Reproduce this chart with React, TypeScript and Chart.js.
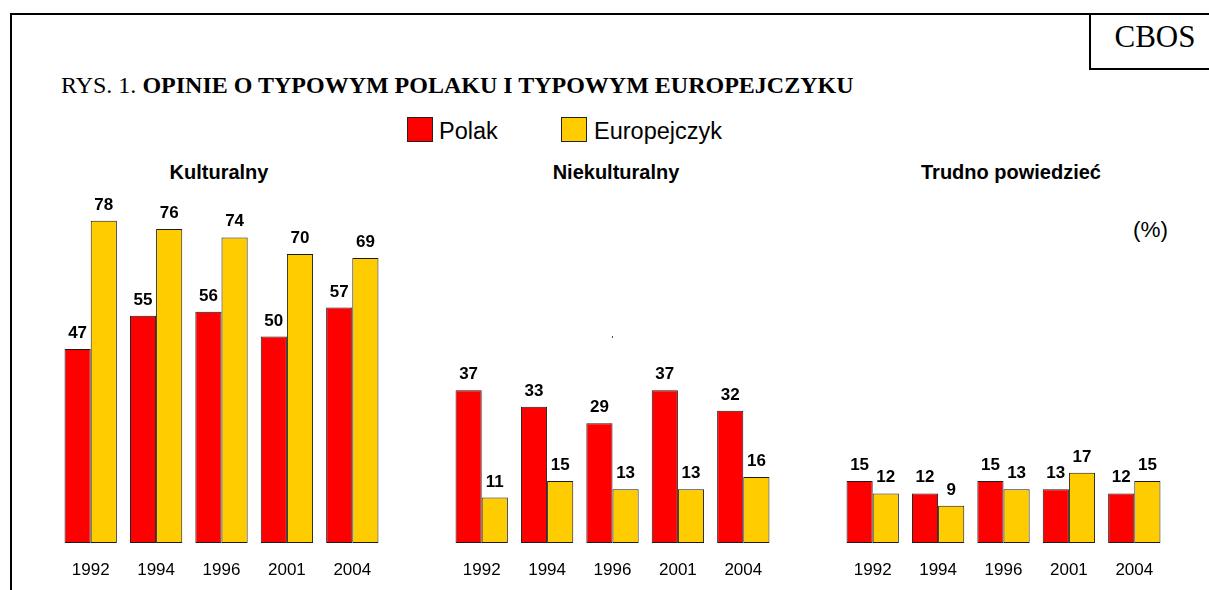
import React, { useEffect, useRef } from "react";
import { Chart, registerables } from "chart.js";

Chart.register(...registerables);

// ---- data ----
const years = ["1992", "1994", "1996", "2001", "2004"];
const seriesNames = ["Polak", "Europejczyk"];
const panelTitles = ["Kulturalny", "Niekulturalny", "Trudno powiedzieć"];
const kulturalnyPolak = [47, 55, 56, 50, 57];
const kulturalnyEuropejczyk = [78, 76, 74, 70, 69];
const niekulturalnyPolak = [37, 33, 29, 37, 32];
const niekulturalnyEuropejczyk = [11, 15, 13, 13, 16];
const trudnoPolak = [15, 12, 15, 13, 12];
const trudnoEuropejczyk = [12, 9, 13, 17, 15];

const SANS = "'Liberation Sans', Arial, sans-serif";
const SERIF = "'Liberation Serif', 'Times New Roman', serif";
const RED = "#FF0000";
const YELLOW = "#FFCC00";

const valueLabels = {
  id: "valueLabels",
  afterDatasetsDraw(chart: any) {
    const ctx = chart.ctx;
    ctx.save();
    ctx.font = `bold 17px ${SANS}`;
    ctx.fillStyle = "#000";
    ctx.textAlign = "center";
    ctx.textBaseline = "alphabetic";
    chart.data.datasets.forEach((ds: any, i: number) => {
      const meta = chart.getDatasetMeta(i);
      meta.data.forEach((bar: any, j: number) => {
        ctx.fillText(String(ds.data[j]), bar.x, bar.y - 11);
      });
    });
    ctx.restore();
  },
};

const CW = 327;
const CH = 447;
const CTOP = 150;

function Panel({ left, polak, europ }: { left: number; polak: number[]; europ: number[] }) {
  const ref = useRef<HTMLCanvasElement | null>(null);
  useEffect(() => {
    if (!ref.current) return;
    const common = {
      borderColor: "#1a1a1a",
      borderWidth: 1,
      borderSkipped: false,
      categoryPercentage: 0.8,
      barPercentage: 1.0,
    };
    const chart = new Chart(ref.current, {
      type: "bar",
      data: {
        labels: years,
        datasets: [
          { label: seriesNames[0], data: polak, backgroundColor: RED, ...common },
          { label: seriesNames[1], data: europ, backgroundColor: YELLOW, ...common },
        ],
      },
      options: {
        responsive: false,
        animation: false,
        devicePixelRatio: 1,
        layout: { autoPadding: false, padding: { top: 62.6, bottom: 0, left: 0, right: 0 } },
        plugins: {
          legend: { display: false },
          tooltip: { enabled: false },
          title: { display: false },
        },
        scales: {
          x: {
            grid: { display: false, drawTicks: false },
            border: { display: false },
            ticks: {
              color: "#000",
              font: { size: 17, family: SANS, lineHeight: 2 },
              padding: 10,
              maxRotation: 0,
              autoSkip: false,
            },
          },
          y: { display: false, min: 0, max: 80 },
        },
      },
      plugins: [valueLabels],
    } as any);
    return () => chart.destroy();
  }, []);
  return (
    <div style={{ position: "absolute", left, top: CTOP, width: CW, height: CH }}>
      <canvas ref={ref} width={CW} height={CH} style={{ display: "block" }} />
    </div>
  );
}

const abs = (o: any) => ({ position: "absolute" as const, margin: 0, padding: 0, whiteSpace: "nowrap" as const, ...o });

export default function App() {
  const panelLefts = [58, 449, 840];
  const titleCenters = [219, 616, 1011];
  const panels = [
    [kulturalnyPolak, kulturalnyEuropejczyk],
    [niekulturalnyPolak, niekulturalnyEuropejczyk],
    [trudnoPolak, trudnoEuropejczyk],
  ];
  return (
    <div style={{ position: "fixed", left: 0, top: 0, width: 1209, height: 590, overflow: "hidden", background: "#fff" }}>
      {/* frame */}
      <div style={abs({ left: 10, top: 13, width: 1300, height: 2, background: "#000" })} />
      <div style={abs({ left: 10, top: 13, width: 2, height: 700, background: "#000" })} />
      <div style={abs({ left: 1089, top: 13, width: 2, height: 57, background: "#000" })} />
      <div style={abs({ left: 1089, top: 68, width: 200, height: 2, background: "#000" })} />
      <div style={abs({ left: 1091, width: 128, top: 21, fontFamily: SERIF, fontSize: 31, lineHeight: "31px", textAlign: "center", color: "#000" })}>CBOS</div>

      {/* title */}
      <div style={abs({ left: 61, top: 73.4, fontFamily: SERIF, fontSize: 24, lineHeight: "24px", color: "#000" })}>
        RYS. 1. <b>OPINIE O TYPOWYM POLAKU I TYPOWYM EUROPEJCZYKU</b>
      </div>

      {/* legend */}
      <div style={abs({ left: 407, top: 117, width: 24, height: 23, background: RED, border: "1px solid #222" })} />
      <div style={abs({ left: 439, top: 120, fontFamily: SANS, fontSize: 23.5, lineHeight: "23px", color: "#000" })}>{seriesNames[0]}</div>
      <div style={abs({ left: 561, top: 117, width: 24, height: 23, background: YELLOW, border: "1px solid #222" })} />
      <div style={abs({ left: 594, top: 120, fontFamily: SANS, fontSize: 23.5, lineHeight: "23px", color: "#000" })}>{seriesNames[1]}</div>

      {/* panel titles */}
      {panelTitles.map((t, i) => (
        <div key={t} style={abs({ left: titleCenters[i] - 150, width: 300, top: 162, textAlign: "center", fontFamily: SANS, fontWeight: "bold", fontSize: 20, lineHeight: "20px", color: "#000" })}>{t}</div>
      ))}

      {/* unit */}
      <div style={abs({ left: 1133, top: 219, fontFamily: SANS, fontSize: 22.5, lineHeight: "22px", color: "#000" })}>(%)</div>

      {panels.map((p, i) => (
        <Panel key={i} left={panelLefts[i]} polak={p[0]} europ={p[1]} />
      ))}

      <div style={abs({ left: 612, top: 336, width: 1, height: 2, background: "#555" })} />
    </div>
  );
}
